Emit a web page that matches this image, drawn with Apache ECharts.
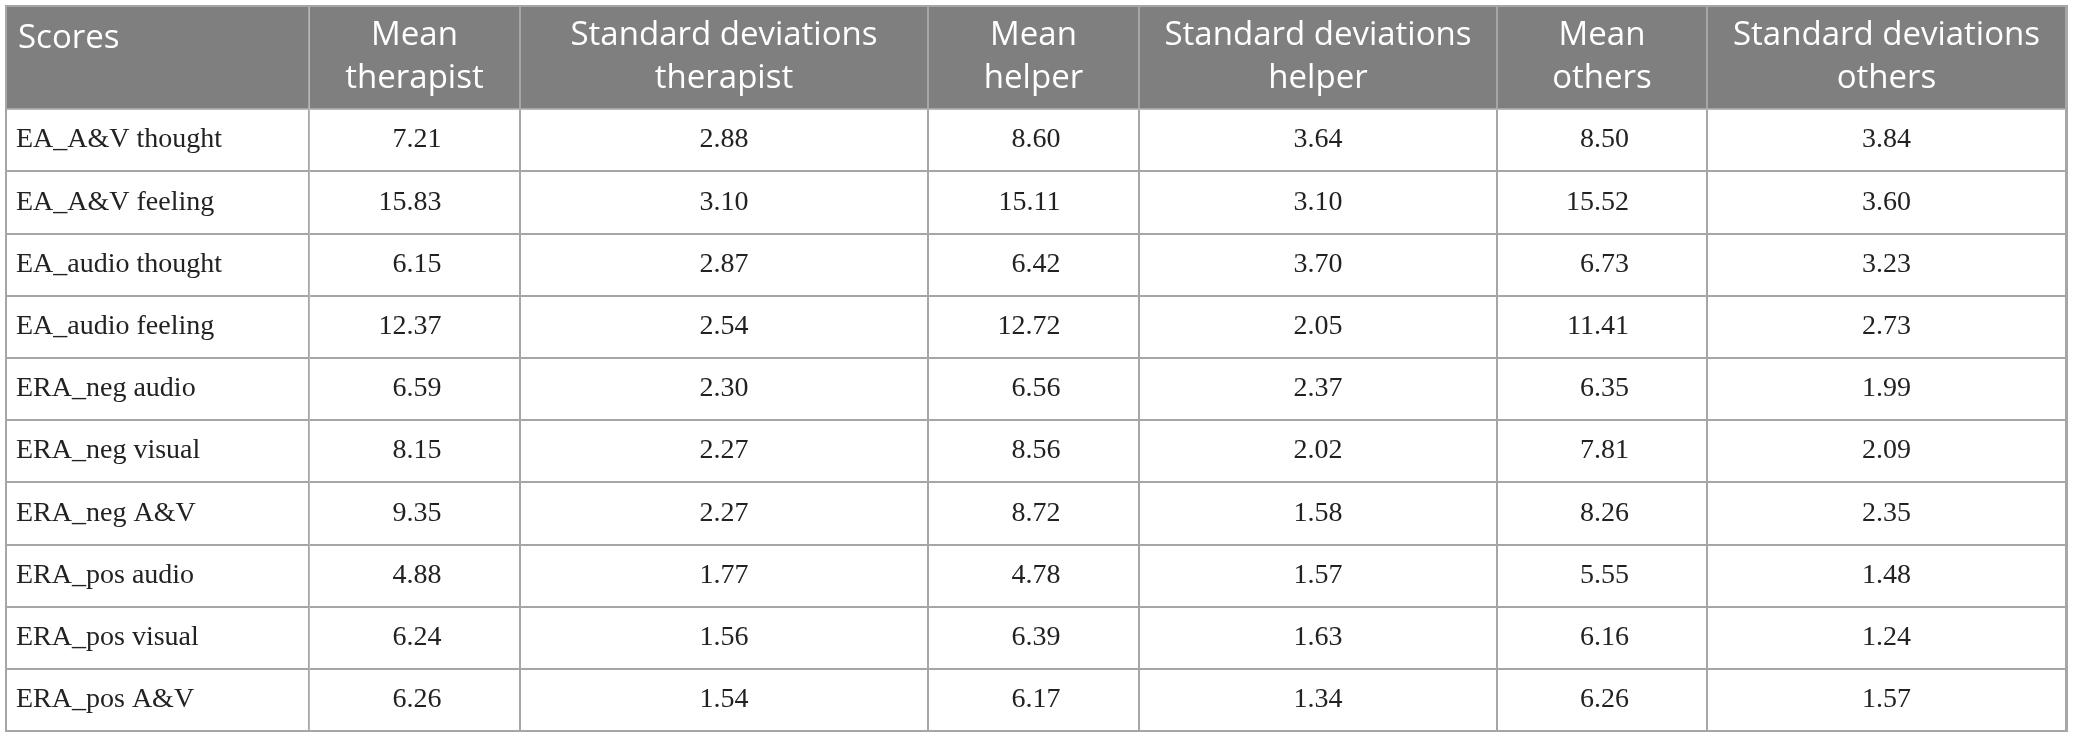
<!DOCTYPE html>
<html>
<head>
<meta charset="utf-8">
<script src="https://cdn.jsdelivr.net/npm/echarts@6.0.0/dist/echarts.min.js"></script>
<style>
	html, body { margin: 0; padding: 0; background: #fff; }
	#chart { width: 2073px; height: 739px; }
</style>
</head>
<body>
<div id="chart"></div>
<script>
const cornerName = 'Scores';
const rowNames = [
	'EA_A&V thought', 'EA_A&V feeling', 'EA_audio thought', 'EA_audio feeling',
	'ERA_neg audio', 'ERA_neg visual', 'ERA_neg A&V',
	'ERA_pos audio', 'ERA_pos visual', 'ERA_pos A&V'
];
const colNames = [
	'Mean\ntherapist', 'Standard deviations\ntherapist',
	'Mean\nhelper', 'Standard deviations\nhelper',
	'Mean\nothers', 'Standard deviations\nothers'
];
const meanTherapist = [7.21, 15.83, 6.15, 12.37, 6.59, 8.15, 9.35, 4.88, 6.24, 6.26];
const sdTherapist = [2.88, 3.10, 2.87, 2.54, 2.30, 2.27, 2.27, 1.77, 1.56, 1.54];
const meanHelper = [8.60, 15.11, 6.42, 12.72, 6.56, 8.56, 8.72, 4.78, 6.39, 6.17];
const sdHelper = [3.64, 3.10, 3.70, 2.05, 2.37, 2.02, 1.58, 1.57, 1.63, 1.34];
const meanOthers = [8.50, 15.52, 6.73, 11.41, 6.35, 7.81, 8.26, 5.55, 6.16, 6.26];
const sdOthers = [3.84, 3.60, 3.23, 2.73, 1.99, 2.09, 2.35, 1.48, 1.24, 1.57];

const columns = [meanTherapist, sdTherapist, meanHelper, sdHelper, meanOthers, sdOthers];
// widths of the value columns, in px
const colSizes = [211, 408, 211, 358, 210, 359];

const lineColor = '#a6a6a6';
const headFont = { fontFamily: 'Open Sans', fontSize: 33, lineHeight: 43, color: '#fff' };
const bodyFont = { fontFamily: 'Liberation Serif', fontSize: 28, color: '#222' };

const getOption = () => {
	const cells = [];
	columns.forEach((col, c) => {
		const isMean = c % 2 === 0;
		col.forEach((v, r) => {
			const cell = { coord: [c, r], value: v.toFixed(2) };
			if (isMean) {
				// means line up on the right edge of a two digit value
				cell.label = { position: 'insideRight', distance: colSizes[c] / 2 - 30 };
			}
			cells.push(cell);
		});
	});

	return {
		matrix: {
			left: 6,
			top: 6,
			width: 2061,
			height: 725,
			backgroundStyle: { borderColor: lineColor, borderWidth: 2 },
			x: {
				levelSize: 103,
				data: colNames.map((n, i) => ({ value: n, size: colSizes[i] })),
				itemStyle: { color: '#7f7f7f', borderColor: lineColor, borderWidth: 2 },
				label: Object.assign({ align: 'center' }, headFont)
			},
			y: {
				levelSize: 303,
				data: rowNames,
				itemStyle: { color: '#fff', borderColor: lineColor, borderWidth: 2 },
				label: Object.assign({ position: 'insideLeft', distance: 7 }, bodyFont)
			},
			corner: {
				data: [{ coord: [-1, -1], value: cornerName }],
				itemStyle: { color: '#7f7f7f', borderColor: lineColor, borderWidth: 2 },
				label: Object.assign({ position: 'insideTopLeft', distance: 9 }, headFont)
			},
			body: {
				data: cells,
				itemStyle: { color: '#fff', borderColor: lineColor, borderWidth: 2 },
				label: bodyFont
			}
		}
	};
};

const chart = echarts.init(document.getElementById('chart'));
chart.setOption(getOption());
</script>
</body>
</html>
